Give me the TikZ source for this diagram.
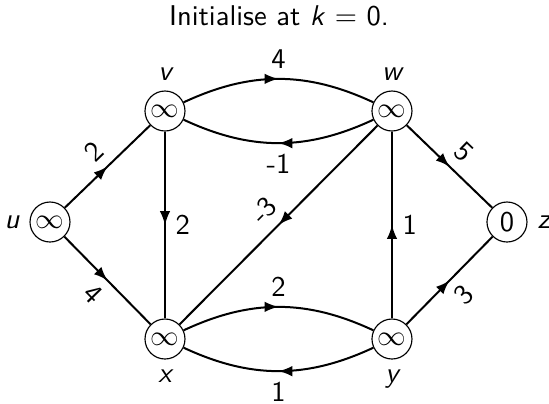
\documentclass[tikz,border=0pt]{standalone}
\usepackage{tikz}
\usetikzlibrary{arrows.meta,decorations.markings}
\renewcommand{\familydefault}{\sfdefault}

\begin{document}
\begin{tikzpicture}[x=0.35pt,y=-0.35pt,
  vertex/.style={draw,circle,thin,minimum size=14pt,inner sep=0pt},
  edge/.style={line width=0.7pt,postaction={decorate},
    decoration={markings,mark=at position 0.5 with {\arrow{Latex[length=1.7mm,width=1.3mm]}}}},
  lbl/.style={font=\itshape,label distance=0pt}]
\useasboundingbox (0,0) rectangle (549,403);
\node (title) at (279,16) {Initialise at \textit{k} $=$ 0.};
\node[vertex,label={[lbl]left:u}] (u) at (50,222) {$\infty$};
\node[vertex,label={[lbl]above:v}] (v) at (165,111) {$\infty$};
\node[vertex,label={[lbl]above:w}] (w) at (392,111) {$\infty$};
\node[vertex,label={[lbl]right:z}] (z) at (507,222) {0};
\node[vertex,label={[lbl]below:x}] (x) at (165,339) {$\infty$};
\node[vertex,label={[lbl]below:y}] (y) at (392,339) {$\infty$};
\draw[edge] (u)--(v) node[midway,sloped,above] {2};
\draw[edge] (u)--(x) node[midway,sloped,below] {4};
\draw[edge] (v) to[bend left=25] node[midway,above] {4} (w);
\draw[edge] (w) to[bend left=25] node[midway,below] {-1} (v);
\draw[edge] (v)--(x) node[midway,right] {2};
\draw[edge] (w)--(x) node[midway,sloped,above] {-3};
\draw[edge] (w)--(z) node[midway,sloped,above] {5};
\draw[edge] (y)--(w) node[midway,right] {1};
\draw[edge] (y)--(z) node[midway,sloped,below] {3};
\draw[edge] (x) to[bend left=25] node[midway,above] {2} (y);
\draw[edge] (y) to[bend left=25] node[midway,below] {1} (x);
\end{tikzpicture}
\end{document}
